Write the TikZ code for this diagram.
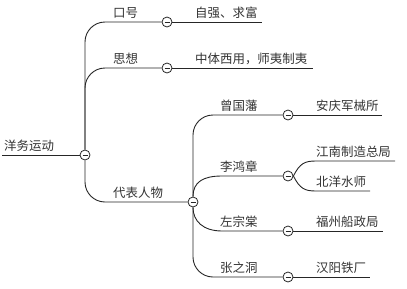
\documentclass[tikz,border=0pt]{standalone}
\usepackage{fontspec}
\newfontfamily\cjk{Noto Sans CJK SC}
\begin{document}
\begin{tikzpicture}[x=1bp,y=-1bp,
  ln/.style={draw=black!85, line width=0.9bp},
  tx/.style={anchor=base west, inner sep=0pt, text=black!80, font=\cjk\fontsize{12.5}{14}\selectfont},
  tog/.style={circle, draw=black!85, fill=white, line width=0.8bp, minimum size=10bp, inner sep=0pt,
    path picture={\draw[black!85, line width=0.8bp] ([xshift=-2.5bp]path picture bounding box.center) -- ([xshift=2.5bp]path picture bounding box.center);}},
  rc/.style={ln, rounded corners=20bp}]
\useasboundingbox (0,0) rectangle (407,289);
% toggles
\node[tog] (c0) at (85,155) {};
\node[tog] (c1) at (167,22) {};
\node[tog] (c2) at (167,68) {};
\node[tog] (c3) at (193,202) {};
\node[tog] (c31) at (288,115) {};
\node[tog] (c32) at (288,176) {};
\node[tog] (c33) at (288,231) {};
\node[tog] (c34) at (288,277) {};
% texts
\node[tx] (t0) at (4,150.5) {洋务运动};
\node[tx] (t1) at (113,17.5) {口号};
\node[tx] (t2) at (113,63.5) {思想};
\node[tx] (t3) at (113,197.5) {代表人物};
\node[tx] (t11) at (195,17.5) {自强、求富};
\node[tx] (t21) at (195,63.5) {中体西用，师夷制夷};
\node[tx] (t31) at (220,110.5) {曾国藩};
\node[tx] (t32) at (220,171.5) {李鸿章};
\node[tx] (t33) at (220,226.5) {左宗棠};
\node[tx] (t34) at (220,272.5) {张之洞};
\node[tx] (t311) at (316,110.5) {安庆军械所};
\node[tx] (t321) at (316,156.5) {江南制造总局};
\node[tx] (t322) at (316,186.5) {北洋水师};
\node[tx] (t331) at (316,226.5) {福州船政局};
\node[tx] (t341) at (316,272.5) {汉阳铁厂};
% line end coordinates
\coordinate (e0) at (2,155);
\coordinate (e11) at (262,22);
\coordinate (e21) at (313,68);
\coordinate (e311) at (382,115);
\coordinate (e321) at (395,161);
\coordinate (e322) at (370,191);
\coordinate (e331) at (383,231);
\coordinate (e341) at (370,277);
% connectors
\draw[ln] (e0) -- (c0.west);
\draw[rc] (c0.north) |- (c1.west);
\draw[rc] (c0.north) |- (c2.west);
\draw[rc] (c0.south) |- (c3.west);
\draw[ln] (c1.east) -- (e11);
\draw[ln] (c2.east) -- (e21);
\draw[rc] (c3.north) |- (c31.west);
\draw[ln] (c3.north) .. controls (193,182) and (203,176) .. (222,176) -- (c32.west);
\draw[ln] (c3.south) .. controls (193,221) and (203,231) .. (222,231) -- (c33.west);
\draw[rc] (c3.south) |- (c34.west);
\draw[ln] (c31.east) -- (e311);
\draw[ln] (c33.east) -- (e331);
\draw[ln] (c34.east) -- (e341);
\draw[ln] (c32.east) .. controls (300,163) and (305,161) .. (316,161) -- (e321);
\draw[ln] (c32.east) .. controls (300,189) and (305,191) .. (316,191) -- (e322);
\end{tikzpicture}
\end{document}
